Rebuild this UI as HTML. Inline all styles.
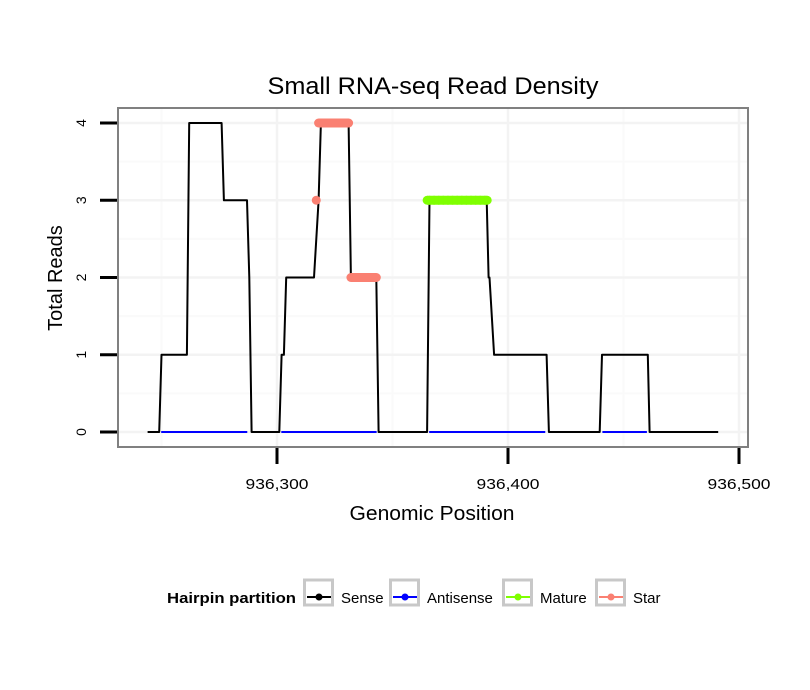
<!DOCTYPE html>
<html><head><meta charset="utf-8"><style>
body{margin:0;background:#fff}
svg{display:block;font-family:"Liberation Sans",sans-serif}
</style></head><body>
<svg id="chart" width="810" height="690">
<rect x="0" y="0" width="810" height="690" fill="#fff"/>
<text x="433" y="94" font-size="24" text-anchor="middle" fill="#000" textLength="331" lengthAdjust="spacingAndGlyphs">Small RNA-seq Read Density</text>
<g id="grid"></g>
<g id="marks"></g>
<rect x="118" y="108" width="630" height="339" fill="none" stroke="#808080" stroke-width="2"/>
<g id="axes"></g>
<text x="432" y="520" font-size="20" text-anchor="middle" textLength="165" lengthAdjust="spacingAndGlyphs">Genomic Position</text>
<text transform="translate(62,278) rotate(-90)" font-size="20" text-anchor="middle">Total Reads</text>
<g id="legend">
<text x="167" y="603" font-size="15" font-weight="bold" textLength="129" lengthAdjust="spacingAndGlyphs">Hairpin partition</text>
</g>
</svg>
<script>
const xTicks=[936300,936400,936500];
const xTickLabels=["936,300","936,400","936,500"];
const yTicks=[0,1,2,3,4];
const xMinor=[936250,936350,936450];
const yMinor=[0.5,1.5,2.5,3.5];
// sense coverage trace: positions (offset from 936000) and read counts
const sensePos=[244,249,250,261,262,276,277,287,288,289,301,302,303,304,316,318,319,331,332,343,344,365,366,390.8,391.6,392,394,416.7,417.7,439.7,440.7,460.5,461.3,491];
const senseVal=[0,0,1,1,4,4,3,3,2,0,0,1,1,2,2,3,4,4,2,2,0,0,3,3,2,2,1,1,0,0,1,1,0,0];
const antisenseRanges=[[249,288],[301,344],[365,417],[440,461]];
const maturePos=[365,366,368,370,372,374,376,378,380,382,384,386,388,390,391];
const matureVal=[3,3,3,3,3,3,3,3,3,3,3,3,3,3,3];
const starPos=[317,318,320,322,324,326,328,330,331,332,334,336,338,340,342,343];
const starVal=[3,4,4,4,4,4,4,4,4,2,2,2,2,2,2,2];
const legendLabels=["Sense","Antisense","Mature","Star"];
const legendColors=["#000000","#0000ff","#7fff00","#fa8072"];

const NS="http://www.w3.org/2000/svg";
function xs(p){return 277+(p-936300)*2.31;}
function xo(o){return xs(936000+o);}
function ys(v){return 432-v*77.25;}
function mk(tag,attrs,parent){const e=document.createElementNS(NS,tag);for(const k in attrs)e.setAttribute(k,attrs[k]);parent.appendChild(e);return e;}
const grid=document.getElementById('grid'),marks=document.getElementById('marks'),axes=document.getElementById('axes'),legend=document.getElementById('legend');
xMinor.forEach(v=>{const l=mk('line',{x1:xs(v),x2:xs(v),y1:108,y2:447,stroke:'#fafafa','stroke-width':2},grid);

});
yMinor.forEach(v=>{const l=mk('line',{x1:118,x2:748,y1:ys(v),y2:ys(v),stroke:'#fafafa','stroke-width':2},grid);

});
xTicks.forEach(v=>{const l=mk('line',{x1:xs(v),x2:xs(v),y1:108,y2:447,stroke:'#f3f3f3','stroke-width':2.5},grid);

});
yTicks.forEach(v=>{const l=mk('line',{x1:118,x2:748,y1:ys(v),y2:ys(v),stroke:'#f3f3f3','stroke-width':2.5},grid);

});
// sense
let d=sensePos.map((p,i)=>(i?'L':'M')+xo(p).toFixed(1)+','+ys(senseVal[i]).toFixed(1)).join('');
const sl=mk('path',{d:d,fill:'none',stroke:'#000','stroke-width':2,'stroke-linejoin':'round'},marks);


// antisense on top
antisenseRanges.forEach(r=>{const l=mk('line',{x1:xo(r[0])+2,x2:xo(r[1])-2,y1:ys(0),y2:ys(0),stroke:'#0000ff','stroke-width':2},marks);

});
function pts(P,V,col,name){P.forEach((p,i)=>{const c=mk('circle',{cx:xo(p),cy:ys(V[i]),r:4.5,fill:col},marks);

});
for(let i=1;i<P.length;i++){if(V[i]===V[i-1]){const l=mk('line',{x1:xo(P[i-1]),x2:xo(P[i]),y1:ys(V[i]),y2:ys(V[i]),stroke:col,'stroke-width':9},marks);

}}}
pts(maturePos,matureVal,'#7fff00','mature-point');
pts(starPos,starVal,'#fa8072','star-point');
// axes ticks & labels
yTicks.forEach(v=>{const t=mk('line',{x1:100,x2:117,y1:ys(v),y2:ys(v),stroke:'#000','stroke-width':3},axes);


const tx=mk('text',{transform:`translate(86,${ys(v)}) rotate(-90)`,'font-size':14,'text-anchor':'middle'},axes);
tx.textContent=String(v);

});
xTicks.forEach((v,i)=>{const t=mk('line',{x1:xs(v),x2:xs(v),y1:448,y2:464,stroke:'#000','stroke-width':3},axes);


const tx=mk('text',{x:xs(v),y:489,'font-size':15,'text-anchor':'middle',textLength:63,lengthAdjust:'spacingAndGlyphs'},axes);
tx.textContent=xTickLabels[i];

});
// legend
const boxX=[303,389,502,595];
legendLabels.forEach((lab,i)=>{const g=mk('g',{},legend);


mk('rect',{x:boxX[i]+1.5,y:580,width:28,height:25,fill:'#fff',stroke:'#c8c8c8','stroke-width':3},g);
mk('line',{x1:boxX[i]+4,x2:boxX[i]+28,y1:597,y2:597,stroke:legendColors[i],'stroke-width':2},g);
mk('circle',{cx:boxX[i]+16,cy:597,r:3.5,fill:legendColors[i]},g);
const t=mk('text',{x:boxX[i]+38,y:603,'font-size':15},g);t.textContent=lab;});
</script>
</body></html>
